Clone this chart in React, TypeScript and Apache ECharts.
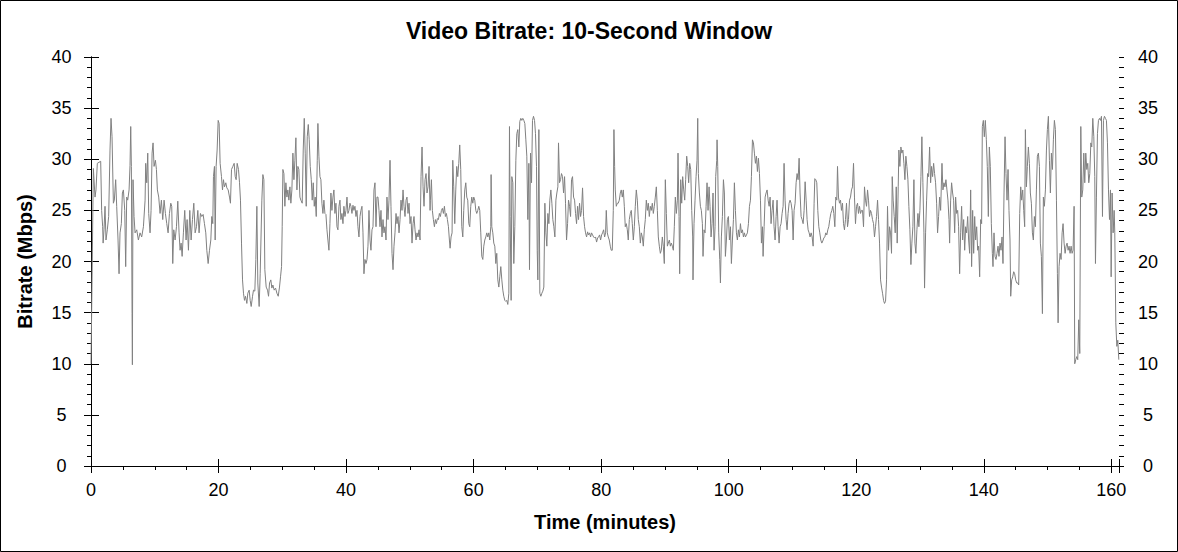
import React, { useEffect, useRef } from "react";
import * as echarts from "echarts";

const chartTitle = "Video Bitrate: 10-Second Window";
const xAxisTitle = "Time (minutes)";
const yAxisTitle = "Bitrate (Mbps)";

const timeMin = 0;
const timeMax = 161.2;
const timeMajorStep = 20;
const timeMinorStep = 5;
const rateMin = 0;
const rateMax = 40;
const rateMajorStep = 5;
const rateMinorStep = 1;

// [minutes, Mbps]
const segmentA: [number, number][] = [
  [0, 10.0], [0.15, 17.5], [0.37, 29.1], [0.63, 26.3], [0.78, 27.0], [0.99, 29.6], [1.52, 29.8], [1.67, 25.0],
  [1.83, 23.4], [1.9, 21.8], [2.04, 23.1], [2.2, 25.4], [2.35, 22.1], [2.56, 23.1], [2.77, 24.4], [2.98, 30.9],
  [3.14, 34.0], [3.3, 32.2], [3.51, 25.7], [3.66, 26.0], [3.87, 28.0], [4.03, 25.4], [4.24, 22.1], [4.4, 18.8],
  [4.55, 22.8], [4.76, 23.7], [4.92, 26.7], [5.08, 27.0], [5.29, 25.0], [5.44, 19.5], [5.6, 26.3], [5.76, 26.0],
  [5.97, 27.0], [6.12, 29.4], [6.23, 33.2], [6.33, 29.3], [6.44, 14.9], [6.49, 9.9], [6.59, 28.0], [6.75, 24.4],
  [6.91, 22.8], [7.17, 23.1], [7.43, 22.1], [7.69, 22.8], [7.95, 22.4], [8.22, 23.4], [8.48, 26.0], [8.58, 29.6],
  [8.74, 27.7], [8.9, 30.6], [9.05, 24.7], [9.26, 22.8], [9.42, 25.0], [9.58, 30.6], [9.73, 31.6], [9.89, 29.3],
  [10.1, 29.9], [10.26, 29.0], [10.41, 27.0], [10.62, 26.3], [10.83, 24.7], [11.04, 26.0], [11.25, 24.1], [11.46, 26.0],
  [11.67, 24.7], [11.88, 23.7], [12.09, 22.8], [12.3, 24.7], [12.51, 25.7], [12.66, 25.4], [12.82, 19.8], [12.98, 23.1],
  [13.19, 22.1], [13.4, 23.4], [13.61, 25.9], [13.81, 22.8], [13.97, 21.1], [14.13, 21.8], [14.29, 20.5], [14.49, 22.8],
  [14.7, 25.0], [14.91, 22.1], [15.07, 24.1], [15.28, 21.1], [15.49, 25.0], [15.7, 22.1], [15.91, 24.1], [16.12, 25.7],
  [16.33, 22.8], [16.54, 23.4], [16.75, 25.0], [16.95, 22.8], [17.16, 24.7], [17.37, 24.4], [17.58, 24.6], [17.79, 23.7],
  [18.0, 22.8], [18.16, 21.1], [18.37, 19.8], [18.58, 21.1], [18.79, 22.1], [18.94, 24.4], [19.1, 23.7], [19.2, 28.3],
  [19.36, 29.3], [19.47, 22.1], [19.62, 29.3], [19.78, 30.9], [19.94, 33.8], [20.09, 33.5], [20.25, 29.6], [20.46, 28.3],
  [20.62, 27.0], [20.77, 28.0], [20.93, 27.3], [21.14, 27.7], [21.3, 27.2], [21.51, 27.0], [21.72, 26.3], [21.87, 25.7],
  [22.03, 29.0], [22.24, 29.3], [22.45, 29.6], [22.61, 28.3], [22.76, 28.0], [22.92, 29.6], [23.13, 29.0], [23.29, 27.7],
  [23.44, 26.0], [23.6, 21.8], [23.76, 18.2], [23.91, 16.9], [24.07, 16.2], [24.23, 16.6], [24.44, 15.9], [24.59, 16.9],
  [24.8, 17.2], [24.96, 16.2], [25.12, 15.6], [25.33, 16.6], [25.48, 17.2], [25.69, 17.1], [25.85, 20.2], [26.01, 25.4],
  [26.16, 17.9],
];

const segmentB: [number, number][] = [
  [26.37, 15.6], [26.53, 18.8], [26.79, 26.0], [26.95, 28.5], [27.11, 28.0], [27.26, 19.2], [27.47, 17.5], [27.68, 17.2],
  [27.84, 16.6], [28.0, 17.9], [28.2, 18.2], [28.36, 17.4], [28.52, 17.7], [28.73, 17.2], [28.94, 17.4], [29.15, 16.9],
  [29.36, 16.6], [29.56, 17.5], [29.72, 18.5], [29.88, 19.5], [29.98, 23.4], [30.09, 29.0], [30.25, 28.6], [30.4, 25.4],
  [30.56, 27.7], [30.72, 26.3], [30.87, 27.0], [31.03, 26.0], [31.19, 27.3], [31.34, 25.7], [31.5, 27.0], [31.66, 30.6],
  [31.82, 28.0], [31.97, 29.9], [32.13, 32.1], [32.29, 27.0], [32.44, 29.3], [32.6, 29.0], [32.76, 26.3], [32.91, 26.0],
  [33.12, 25.7], [33.28, 30.9], [33.44, 34.0], [33.59, 30.6], [33.75, 25.4], [33.91, 32.2], [34.07, 33.4], [34.22, 31.9],
  [34.38, 29.3], [34.54, 28.0], [34.69, 26.0], [34.85, 27.7], [35.01, 25.4], [35.16, 26.3], [35.32, 24.4], [35.48, 29.9],
  [35.58, 33.5], [35.74, 30.3], [35.9, 28.3], [36.05, 28.0], [36.21, 25.7], [36.37, 24.7], [36.52, 26.0], [36.68, 24.7],
  [36.84, 24.6], [37.0, 23.1], [37.15, 22.1], [37.31, 21.1], [37.47, 23.7], [37.62, 26.7], [37.78, 25.0], [37.94, 26.3],
  [38.09, 27.0], [38.25, 24.7], [38.41, 25.7], [38.57, 23.4], [38.72, 23.1], [38.88, 25.4], [39.04, 26.0], [39.19, 24.1],
  [39.35, 24.7], [39.51, 23.7], [39.66, 25.4], [39.82, 24.4], [39.98, 25.0], [40.14, 26.3], [40.29, 24.7], [40.45, 25.0],
  [40.61, 25.7], [40.76, 25.4], [40.92, 24.7], [41.08, 25.5], [41.23, 25.0], [41.39, 25.4], [41.55, 24.4], [41.71, 25.0],
  [41.86, 23.4], [42.02, 22.4], [42.18, 24.4], [42.33, 25.0], [42.49, 25.4], [42.65, 22.8], [42.8, 18.8], [42.96, 20.2],
  [43.12, 19.8], [43.28, 20.2], [43.43, 21.5], [43.59, 25.0], [43.75, 22.1], [43.9, 21.1], [44.06, 23.1], [44.22, 23.4],
  [44.37, 27.0], [44.53, 27.7], [44.69, 23.4], [44.84, 26.3], [45.0, 26.3], [45.16, 25.0], [45.32, 23.4], [45.47, 25.0],
  [45.63, 22.4], [45.79, 24.1], [45.94, 22.8], [46.1, 23.4], [46.26, 22.1], [46.41, 26.3], [46.57, 24.1], [46.73, 26.0],
  [46.89, 29.9], [47.04, 25.4], [47.2, 20.8], [47.36, 19.2], [47.51, 21.5], [47.67, 22.8], [47.83, 24.7], [47.98, 23.7],
  [48.14, 24.4], [48.3, 22.8], [48.46, 24.1], [48.61, 26.0], [48.77, 25.0], [48.93, 27.0], [49.08, 25.4], [49.24, 24.4],
  [49.4, 26.0], [49.55, 26.3], [49.71, 24.7], [49.87, 25.7], [50.03, 23.7], [50.18, 24.4], [50.34, 21.8], [50.5, 23.7],
  [50.65, 24.4], [50.81, 23.1], [50.97, 22.1], [51.12, 22.8], [51.28, 22.4], [51.44, 23.1], [51.6, 22.1], [51.75, 28.3],
  [51.91, 31.2], [52.07, 27.3], [52.22, 25.4], [52.38, 28.0], [52.54, 28.6], [52.69, 26.7], [52.85, 27.3], [53.01, 29.3],
  [53.17, 25.0],
];

const segmentC: [number, number][] = [
  [53.22, 26.0], [53.38, 28.0], [53.53, 25.0], [53.69, 24.1], [53.85, 23.4], [54.0, 24.1], [54.16, 23.7], [54.32, 24.2],
  [54.48, 24.1], [54.63, 24.7], [54.79, 24.4], [54.95, 25.0], [55.1, 25.2], [55.26, 24.7], [55.42, 25.4], [55.57, 24.4],
  [55.73, 24.7], [55.89, 24.1], [56.05, 23.4], [56.2, 22.1], [56.31, 21.3], [56.46, 22.4], [56.62, 22.8], [56.73, 29.9],
  [56.88, 27.3], [57.04, 23.7], [57.2, 27.0], [57.35, 29.3], [57.51, 28.3], [57.67, 29.6], [57.82, 31.4], [57.98, 29.0],
  [58.14, 23.4], [58.3, 22.4], [58.45, 25.0], [58.61, 27.0], [58.77, 27.7], [58.92, 26.3], [59.08, 26.0], [59.24, 23.7],
  [59.39, 23.4], [59.55, 25.4], [59.71, 26.3], [59.87, 25.7], [60.02, 26.3], [60.18, 26.0], [60.34, 25.0], [60.49, 24.7],
  [60.65, 25.0], [60.81, 25.4], [60.96, 25.0], [61.12, 22.8], [61.28, 20.5], [61.44, 20.2], [61.59, 21.5], [61.75, 22.1],
  [61.91, 22.4], [62.06, 22.8], [62.22, 22.4], [62.38, 22.8], [62.53, 22.1], [62.69, 23.4], [62.74, 28.5], [62.85, 23.4],
  [63.01, 22.8], [63.16, 21.8], [63.32, 21.5], [63.48, 19.8], [63.63, 20.8], [63.79, 18.2], [63.95, 17.5], [64.1, 18.5],
  [64.26, 19.5], [64.42, 18.2], [64.58, 17.2], [64.73, 16.6], [64.89, 16.2], [65.05, 16.1], [65.2, 16.2], [65.36, 15.8],
  [65.52, 16.9], [65.62, 33.2], [65.73, 24.4], [65.88, 16.2], [65.99, 28.3], [66.15, 27.7], [66.3, 19.8], [66.46, 23.4],
  [66.62, 29.9], [66.77, 32.5], [66.93, 32.9], [67.09, 31.2], [67.24, 33.7], [67.4, 34.0], [67.56, 33.8], [67.71, 34.0],
  [67.87, 33.8], [68.03, 33.5], [68.19, 31.9], [68.34, 30.3], [68.5, 24.1], [68.66, 29.6], [68.76, 19.2], [68.92, 30.6],
  [69.08, 27.7], [69.23, 33.8], [69.39, 34.2], [69.55, 33.8], [69.7, 32.5], [69.86, 29.3], [69.97, 21.1], [70.07, 18.2],
  [70.23, 32.9], [70.38, 16.9], [70.54, 16.6], [70.7, 16.9], [70.85, 17.1], [71.01, 17.5], [71.17, 25.7], [71.33, 22.8],
  [71.48, 21.5], [71.64, 24.7], [71.8, 23.7], [71.95, 26.0], [72.11, 27.0], [72.27, 25.7], [72.42, 24.1], [72.58, 23.4],
  [72.74, 22.4], [72.9, 26.0], [73.05, 26.7], [73.21, 27.3], [73.31, 31.6], [73.47, 27.7], [73.63, 28.0], [73.78, 28.6],
  [73.94, 28.3], [74.1, 26.7], [74.26, 28.3], [74.41, 25.7], [74.57, 22.1], [74.73, 23.7], [74.88, 26.0], [75.04, 25.4],
  [75.2, 24.4], [75.35, 28.0], [75.51, 28.3], [75.67, 26.3], [75.83, 26.0], [75.98, 24.7], [76.14, 23.7], [76.3, 25.4],
  [76.45, 24.1], [76.61, 25.7], [76.77, 24.4], [76.92, 25.0], [77.08, 27.2], [77.24, 24.4], [77.4, 23.4], [77.55, 22.8],
  [77.71, 22.4], [77.87, 22.9], [78.02, 22.6], [78.18, 22.8], [78.34, 22.4], [78.49, 22.8], [78.65, 22.6], [78.81, 22.4],
  [78.97, 22.3], [79.12, 22.4], [79.28, 21.9], [79.44, 22.3], [79.59, 22.4], [79.75, 22.6],
];

const segmentD: [number, number][] = [
  [79.91, 22.1], [80.07, 22.6], [80.22, 22.8], [80.38, 23.1], [80.54, 22.4], [80.69, 22.8], [80.8, 25.0], [80.96, 22.8],
  [81.11, 22.4], [81.27, 22.1], [81.43, 21.5], [81.58, 21.1], [81.74, 21.1], [81.9, 25.0], [82.0, 32.9], [82.11, 29.3],
  [82.21, 27.0], [82.37, 25.4], [82.53, 25.7], [82.68, 25.7], [82.84, 26.0], [83.0, 26.7], [83.15, 27.0], [83.31, 26.3],
  [83.47, 27.0], [83.63, 25.4], [83.78, 23.4], [83.94, 23.7], [84.1, 23.1], [84.25, 22.1], [84.41, 24.1], [84.57, 24.7],
  [84.72, 25.0], [84.88, 23.7], [85.04, 22.1], [85.2, 23.4], [85.35, 25.4], [85.51, 27.0], [85.67, 26.0], [85.82, 24.1],
  [85.98, 23.4], [86.14, 21.8], [86.29, 22.8], [86.45, 22.4], [86.61, 21.5], [86.76, 23.1], [86.92, 24.1], [87.08, 26.0],
  [87.24, 25.0], [87.39, 25.7], [87.55, 24.4], [87.71, 25.4], [87.86, 25.0], [88.02, 25.7], [88.18, 24.7], [88.33, 25.4],
  [88.49, 26.3], [88.65, 27.3], [88.81, 25.0], [88.96, 22.4], [89.12, 21.5], [89.28, 20.8], [89.43, 21.1], [89.59, 22.4],
  [89.75, 21.5], [89.9, 19.8], [90.06, 28.0], [90.22, 24.7], [90.38, 21.5], [90.53, 21.8], [90.69, 22.1], [90.85, 21.5],
  [91.0, 21.8], [91.16, 21.5], [91.32, 21.1], [91.47, 23.4], [91.63, 26.3], [91.79, 24.7], [91.95, 26.0], [92.05, 30.6],
  [92.21, 24.4], [92.31, 18.8], [92.47, 28.0], [92.63, 25.7], [92.78, 28.3], [92.94, 27.0], [93.1, 26.0], [93.25, 28.0],
  [93.41, 30.3], [93.57, 29.3], [93.72, 27.7], [93.88, 29.6], [94.04, 29.0], [94.2, 25.0], [94.35, 22.4], [94.4, 18.2],
  [94.56, 23.7], [94.72, 26.0], [94.88, 28.3], [95.03, 29.9], [95.14, 34.0], [95.24, 28.6], [95.4, 26.7], [95.56, 25.4],
  [95.71, 25.0], [95.87, 23.7], [95.97, 20.5], [96.13, 23.1], [96.29, 22.8], [96.45, 25.4], [96.6, 27.7], [96.76, 25.0],
  [96.92, 27.3], [97.07, 25.4], [97.23, 22.4], [97.39, 23.7], [97.54, 26.7], [97.7, 21.1], [97.86, 23.4], [97.96, 28.3],
  [98.12, 29.9], [98.17, 31.9], [98.28, 29.3], [98.43, 22.8], [98.59, 20.2], [98.7, 17.9], [98.85, 22.4], [99.01, 24.4],
  [99.17, 28.0], [99.32, 26.7], [99.48, 20.5], [99.64, 22.1], [99.79, 24.1], [99.95, 24.4], [100.11, 22.1], [100.27, 23.4],
  [100.42, 19.8], [100.58, 22.1], [100.74, 24.1], [100.89, 27.7], [101.05, 25.0], [101.21, 22.8], [101.36, 22.1], [101.52, 23.1],
  [101.68, 22.4], [101.84, 23.7], [101.99, 22.8], [102.15, 23.1], [102.31, 22.4], [102.46, 22.8], [102.62, 22.4], [102.78, 22.6],
  [102.93, 22.8], [103.09, 23.7], [103.25, 25.4], [103.41, 26.0], [103.56, 28.3], [103.72, 31.9], [103.88, 31.6], [104.03, 30.6],
  [104.19, 29.6], [104.35, 30.3], [104.5, 28.8], [104.66, 30.1], [104.82, 28.6], [104.98, 26.0], [105.13, 21.8], [105.29, 23.4],
  [105.39, 20.5], [105.55, 23.4], [105.71, 26.3], [105.86, 26.7], [106.02, 27.0], [106.18, 26.0], [106.34, 25.4], [106.49, 26.3],
];

const segmentE: [number, number][] = [
  [106.64, 23.7], [106.8, 25.0], [106.96, 26.0], [107.11, 23.4], [107.27, 22.1], [107.43, 24.4], [107.58, 26.0], [107.74, 23.4],
  [107.9, 21.8], [108.06, 23.4], [108.21, 23.7], [108.37, 24.7], [108.53, 25.4], [108.68, 29.6], [108.84, 26.0], [109.0, 24.1],
  [109.15, 23.1], [109.31, 24.7], [109.47, 25.7], [109.62, 26.0], [109.78, 25.7], [109.94, 25.0], [110.1, 22.1], [110.25, 25.0],
  [110.41, 25.7], [110.57, 27.7], [110.72, 28.6], [110.88, 28.0], [111.04, 30.1], [111.19, 26.7], [111.35, 24.4], [111.51, 24.1],
  [111.67, 23.7], [111.82, 25.0], [111.98, 27.8], [112.14, 26.0], [112.29, 24.1], [112.45, 23.1], [112.61, 22.8], [112.76, 22.4],
  [112.92, 22.8], [113.08, 22.4], [113.24, 21.5], [113.39, 25.7], [113.5, 28.1], [113.65, 28.0], [113.81, 27.7], [113.97, 25.0],
  [114.13, 23.4], [114.28, 22.8], [114.44, 22.1], [114.6, 21.8], [114.75, 22.0], [114.91, 22.3], [115.07, 22.4], [115.22, 22.8],
  [115.38, 22.6], [115.54, 23.1], [115.69, 23.4], [115.85, 24.1], [116.01, 24.7], [116.17, 25.0], [116.32, 25.4], [116.48, 24.7],
  [116.64, 23.4], [116.79, 26.3], [116.95, 26.0], [117.06, 29.3], [117.21, 26.3], [117.37, 25.7], [117.53, 26.0], [117.68, 25.0],
  [117.84, 25.7], [118.0, 23.7], [118.15, 23.1], [118.31, 24.1], [118.47, 25.7], [118.63, 23.4], [118.78, 24.1], [118.94, 26.0],
  [119.1, 26.3], [119.25, 27.0], [119.41, 27.3], [119.57, 29.6], [119.72, 26.3], [119.88, 23.7], [120.04, 25.4], [120.2, 25.7],
  [120.35, 24.7], [120.51, 25.4], [120.67, 24.7], [120.82, 25.0], [120.98, 25.0], [121.14, 23.4], [121.29, 27.3], [121.45, 26.0],
  [121.61, 25.4], [121.77, 27.0], [121.92, 26.0], [122.08, 24.4], [122.24, 25.0], [122.39, 24.7], [122.55, 24.1], [122.71, 23.7],
  [122.86, 22.4], [123.02, 23.4], [123.18, 24.4], [123.34, 26.0], [123.49, 24.1], [123.65, 21.8], [123.81, 18.2], [123.96, 17.5],
  [124.12, 16.9], [124.28, 16.2], [124.43, 15.9], [124.59, 16.1], [124.75, 18.2], [124.9, 25.4], [125.06, 21.1], [125.22, 23.4],
  [125.38, 22.8], [125.53, 20.8], [125.64, 28.3], [125.79, 26.0], [125.95, 24.4], [126.11, 22.8], [126.27, 27.3], [126.42, 21.8],
  [126.58, 27.3], [126.68, 30.9], [126.84, 29.3], [127.0, 31.2], [127.15, 30.6], [127.31, 30.9], [127.47, 29.6], [127.63, 28.0],
  [127.78, 30.3], [127.94, 29.3], [128.1, 28.0], [128.25, 25.4], [128.41, 23.1], [128.57, 19.7], [128.72, 21.8], [128.88, 23.4],
  [129.04, 28.0], [129.2, 21.8], [129.35, 20.8], [129.51, 23.1], [129.67, 24.7], [129.82, 23.4], [129.98, 25.0], [130.14, 28.3],
  [130.29, 32.2], [130.45, 27.7], [130.61, 22.8], [130.71, 17.4], [130.87, 22.8], [131.03, 26.0], [131.18, 28.6], [131.34, 28.3],
  [131.5, 31.2], [131.66, 27.7], [131.81, 29.3], [131.97, 28.3], [132.13, 29.6], [132.28, 28.6], [132.44, 27.7], [132.6, 25.7],
  [132.75, 22.8], [132.91, 24.4], [133.07, 26.3], [133.23, 25.0],
];

const segmentF: [number, number][] = [
  [133.44, 29.6], [133.59, 27.0], [133.75, 27.7], [133.91, 27.3], [134.06, 28.0], [134.22, 27.0], [134.38, 26.0], [134.54, 24.1],
  [134.64, 21.8], [134.8, 26.0], [134.95, 27.7], [135.11, 26.7], [135.27, 26.0], [135.43, 22.8], [135.58, 26.3], [135.74, 24.7],
  [135.9, 25.0], [136.05, 23.4], [136.21, 18.8], [136.37, 22.8], [136.52, 25.4], [136.68, 22.1], [136.84, 24.1], [137.0, 21.1],
  [137.15, 23.4], [137.31, 22.8], [137.47, 24.4], [137.62, 22.1], [137.78, 20.8], [137.94, 27.0], [138.09, 19.5], [138.25, 25.0],
  [138.41, 20.8], [138.57, 24.4], [138.72, 22.1], [138.88, 23.4], [139.04, 21.1], [139.19, 21.5], [139.35, 18.5], [139.51, 24.1],
  [139.66, 23.7], [139.77, 33.2], [139.93, 33.8], [140.08, 32.2], [140.24, 33.8], [140.4, 31.9], [140.55, 29.3], [140.71, 24.4],
  [140.87, 31.2], [141.02, 29.3], [141.18, 23.7], [141.34, 20.8], [141.44, 19.5], [141.6, 22.8], [141.76, 20.5], [141.91, 20.2],
  [142.07, 20.8], [142.23, 21.5], [142.38, 20.5], [142.54, 21.8], [142.7, 21.1], [142.86, 22.4], [143.01, 19.8], [143.17, 26.7],
  [143.33, 32.2], [143.48, 28.6], [143.64, 26.0], [143.8, 29.0], [143.95, 25.0], [144.11, 22.1], [144.22, 16.6], [144.37, 18.2],
  [144.53, 18.5], [144.69, 19.0], [144.84, 18.8], [145.0, 18.2], [145.16, 17.9], [145.32, 17.9], [145.47, 17.7], [145.63, 24.7],
  [145.79, 27.3], [145.94, 26.0], [146.1, 27.0], [146.26, 25.0], [146.41, 23.4], [146.52, 32.9], [146.68, 27.3], [146.83, 29.3],
  [146.99, 31.2], [147.15, 29.6], [147.3, 26.7], [147.46, 25.7], [147.62, 22.8], [147.77, 22.1], [147.93, 24.4], [148.09, 23.4],
  [148.25, 27.0], [148.4, 30.3], [148.56, 30.6], [148.72, 29.3], [148.87, 21.8], [149.03, 20.5], [149.19, 14.9], [149.34, 26.3],
  [149.5, 25.4], [149.66, 27.0], [149.82, 30.9], [149.97, 32.9], [150.13, 34.2], [150.29, 29.9], [150.44, 26.7], [150.6, 30.6],
  [150.76, 29.0], [150.91, 31.9], [151.07, 33.8], [151.23, 32.9], [151.39, 26.0], [151.54, 18.8], [151.65, 14.0], [151.8, 19.5],
  [151.96, 20.8], [152.12, 20.2], [152.28, 22.8], [152.43, 23.7], [152.59, 21.8], [152.75, 20.8], [152.9, 21.5], [153.06, 21.8],
  [153.22, 21.1], [153.37, 21.5], [153.53, 20.8], [153.69, 21.5], [153.84, 20.8], [154.0, 21.1], [154.16, 25.4], [154.26, 10.0],
  [154.42, 10.4], [154.58, 10.7], [154.73, 10.4], [154.89, 14.3], [155.05, 11.0], [155.21, 33.2], [155.36, 26.3], [155.52, 27.0],
  [155.68, 30.6], [155.83, 27.7], [155.99, 30.6], [156.15, 29.0], [156.3, 29.6], [156.46, 27.7], [156.62, 28.6], [156.78, 31.6],
  [156.93, 31.2], [157.09, 34.0], [157.25, 32.2], [157.4, 28.3], [157.51, 19.8], [157.66, 26.3], [157.82, 32.5], [157.98, 33.8],
  [158.14, 34.0], [158.29, 33.8], [158.45, 34.2], [158.61, 24.4], [158.76, 33.8], [158.92, 34.2], [159.08, 34.0], [159.23, 33.8],
  [159.39, 31.6], [159.55, 27.0], [159.71, 24.1], [159.86, 27.0], [159.97, 18.5], [160.12, 26.7], [160.28, 22.8], [160.44, 25.0],
  [160.54, 22.8], [160.7, 14.0], [160.86, 11.7], [161.01, 12.3], [161.17, 10.4],
];

const FONT = "'Liberation Sans', Arial, Helvetica, sans-serif";
const BLACK = "#000000";

function hiddenAxis(extra: any): any {
  return {
    type: "value",
    splitLine: { show: false },
    axisLine: { show: false },
    axisLabel: { show: false },
    axisPointer: { show: false },
    silent: true,
    ...extra,
  };
}

export default function App() {
  const ref = useRef<HTMLDivElement>(null);

  useEffect(() => {
    if (!ref.current) return;
    const chart = echarts.init(ref.current, undefined, { renderer: "svg" });
    const series = [...segmentA, ...segmentB, ...segmentC, ...segmentD, ...segmentE, ...segmentF];

    const xCommon = { min: timeMin, max: timeMax };
    const yCommon = { min: rateMin, max: rateMax };
    const tickLine = { color: BLACK, width: 1 };

    chart.setOption({
      animation: false,
      backgroundColor: "#ffffff",
      title: {
        text: chartTitle,
        left: "center",
        top: 14,
        textStyle: { fontFamily: FONT, fontSize: 23, fontWeight: "bold", color: BLACK },
      },
      grid: { left: 91, right: 59, top: 57, bottom: 86, containLabel: false, outerBoundsMode: "none" },
      xAxis: [
        {
          type: "value",
          position: "bottom",
          ...xCommon,
          interval: timeMajorStep,
          splitLine: { show: false },
          axisLine: { show: true, lineStyle: tickLine },
          axisTick: { show: true, inside: false, length: 7, lineStyle: tickLine },
          axisLabel: { show: true, fontFamily: FONT, fontSize: 18, color: BLACK, margin: 15, showMaxLabel: false, hideOverlap: false },
          name: xAxisTitle,
          nameLocation: "middle",
          nameGap: 46,
          nameTextStyle: { fontFamily: FONT, fontSize: 20, fontWeight: "bold", color: BLACK },
        },
        hiddenAxis({ position: "bottom", ...xCommon, interval: timeMajorStep, axisTick: { show: true, inside: true, length: 7, lineStyle: tickLine } }),
        hiddenAxis({ position: "bottom", ...xCommon, interval: timeMinorStep, axisTick: { show: true, inside: false, length: 3, lineStyle: tickLine } }),
        hiddenAxis({ position: "top", ...xCommon, interval: timeMajorStep, axisLine: { show: true, lineStyle: tickLine }, axisTick: { show: true, inside: true, length: 7, lineStyle: tickLine } }),
        hiddenAxis({ position: "top", ...xCommon, interval: timeMinorStep, axisTick: { show: true, inside: true, length: 4, lineStyle: tickLine } }),
      ],
      yAxis: [
        {
          type: "value",
          position: "left",
          ...yCommon,
          interval: rateMajorStep,
          splitLine: { show: false },
          axisLine: { show: true, lineStyle: tickLine },
          axisTick: { show: true, inside: false, length: 7, lineStyle: tickLine },
          axisLabel: { show: true, fontFamily: FONT, fontSize: 18, color: BLACK, margin: 29.5, align: "center" },
          name: yAxisTitle,
          nameLocation: "middle",
          nameGap: 56,
          nameRotate: 90,
          nameTextStyle: { fontFamily: FONT, fontSize: 20, fontWeight: "bold", color: BLACK },
        },
        hiddenAxis({ position: "left", ...yCommon, interval: rateMajorStep, axisTick: { show: true, inside: true, length: 7, lineStyle: tickLine } }),
        hiddenAxis({ position: "left", ...yCommon, interval: rateMinorStep, axisTick: { show: true, inside: false, length: 4, lineStyle: tickLine } }),
        {
          type: "value",
          position: "right",
          ...yCommon,
          interval: rateMajorStep,
          splitLine: { show: false },
          axisLine: { show: true, lineStyle: tickLine },
          axisTick: { show: true, inside: false, length: 8, lineStyle: tickLine },
          axisLabel: { show: true, fontFamily: FONT, fontSize: 18, color: BLACK, margin: 29, align: "center" },
        },
        hiddenAxis({ position: "right", ...yCommon, interval: rateMajorStep, axisTick: { show: true, inside: true, length: 7, lineStyle: tickLine } }),
        hiddenAxis({ position: "right", ...yCommon, interval: rateMinorStep, axisTick: { show: true, inside: false, length: 5, lineStyle: tickLine } }),
      ],
      graphic: [
        {
          type: "rect",
          shape: { x: 0.5, y: 0.5, width: 1177, height: 551 },
          style: { fill: "none", stroke: BLACK, lineWidth: 1 },
          silent: true,
        },
      ],
      series: [
        {
          type: "line",
          xAxisIndex: 0,
          yAxisIndex: 0,
          data: series,
          showSymbol: false,
          symbol: "none",
          lineStyle: { color: "#808080", width: 1 },
          clip: true,
        },
      ],
    });

    return () => chart.dispose();
  }, []);

  return <div ref={ref} style={{ position: "absolute", left: 0, top: 0, width: 1178, height: 552 }} />;
}
